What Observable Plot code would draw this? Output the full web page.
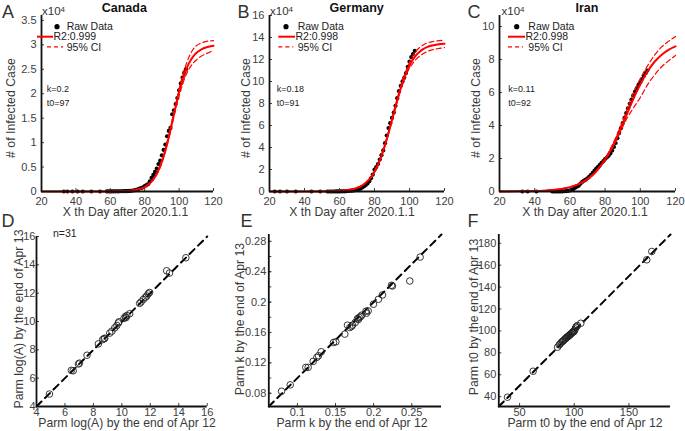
<!DOCTYPE html>
<html><head><meta charset="utf-8">
<script src="https://cdn.jsdelivr.net/npm/d3@7"></script>
<script src="https://cdn.jsdelivr.net/npm/@observablehq/plot@0.6"></script>
<style>
html,body{margin:0;padding:0;background:#fff;}
#fig{position:relative;width:685px;height:431px;overflow:hidden;background:#fff;}
</style></head><body><div id="fig"></div>
<script>
// ---------------- DATA ----------------
const countries = ["Canada", "Germany", "Iran"];
const panelLetters = ["A", "B", "C", "D", "E", "F"];
const r2Labels = ["R2:0.999", "R2:0.998", "R2:0.998"];
const kLabels = ["k=0.2", "k=0.18", "k=0.11"];
const t0Labels = ["t0=97", "t0=91", "t0=92"];
const legendLabels = ["Raw Data", "95% CI"];
const nLabel = "n=31";
const topXLabel = "X th Day after 2020.1.1";
const topYLabel = "# of Infected Case";
const bottomXLabels = ["Parm log(A) by the end of Apr 12", "Parm k by the end of Apr 12", "Parm t0 by the end of Apr 12"];
const bottomYLabels = ["Parm log(A) by the end of Apr 13", "Parm k by the end of Apr 13", "Parm t0 by the end of Apr 13"];

const dayTicks = [20, 40, 60, 80, 100, 120];
const canadaYTicks = [0, 0.5, 1, 1.5, 2, 2.5, 3, 3.5];
const germanyYTicks = [0, 2, 4, 6, 8, 10, 12, 14, 16];
const iranYTicks = [0, 2, 4, 6, 8, 10];

// Canada raw data (cases, x10^4)
const canadaDays = [33,35,38,41,44,49,54,58,59,60,61,62,63,64,65,66,67,68,69,70,71,72,73,74,75,76,77,78,79,80,81,82,83,84,85,86,87,88,89,90,91,92,93,94,95,96,97,98,99,100,101,102,103,104];
const canadaCases = [0,0,0,0,0,0,0,0.001,0.001,0.002,0.002,0.003,0.003,0.003,0.003,0.005,0.005,0.006,0.008,0.009,0.011,0.014,0.02,0.025,0.034,0.044,0.06,0.07,0.085,0.11,0.13,0.15,0.21,0.28,0.34,0.40,0.47,0.56,0.63,0.74,0.85,0.96,1.13,1.24,1.30,1.58,1.66,1.79,1.91,2.07,2.21,2.33,2.43,2.5];
const canadaFitDays = [20,40,50,60,65,70,75,78,80,82,84,86,88,90,92,94,96,98,100,102,104,106,108,110,113,116,120];
const canadaFit   = [0,0,0.0002,0.0014,0.004,0.011,0.033,0.06,0.091,0.136,0.203,0.298,0.431,0.61,0.84,1.115,1.422,1.734,2.028,2.281,2.485,2.641,2.754,2.834,2.909,2.951,2.979];
const canadaUpper = [0,0,0.0002,0.0015,0.0042,0.012,0.035,0.063,0.095,0.142,0.212,0.31,0.448,0.632,0.868,1.15,1.465,1.79,2.1,2.37,2.59,2.77,2.9,2.98,3.04,3.07,3.085];
const canadaLower = [0,0,0.0002,0.0013,0.0038,0.010,0.031,0.057,0.087,0.13,0.195,0.286,0.414,0.588,0.81,1.08,1.38,1.68,1.96,2.19,2.38,2.52,2.62,2.69,2.77,2.82,2.89];

// Germany
const germanyDays = [23,26,30,35,44,49,53,54,55,56,57,58,59,60,61,62,63,64,65,66,67,68,69,70,71,72,73,74,75,76,77,78,79,80,81,82,83,84,85,86,87,88,89,90,91,92,93,94,95,96,97,98,99,100,101,102,103];
const germanyCases = [0,0,0,0,0,0,0.002,0.002,0.002,0.002,0.002,0.003,0.005,0.008,0.013,0.016,0.02,0.026,0.048,0.067,0.079,0.10,0.116,0.146,0.19,0.26,0.37,0.46,0.58,0.73,0.93,1.2,1.53,1.98,2.22,2.49,2.91,3.3,3.73,4.39,5.09,5.77,6.21,6.69,7.18,7.79,8.48,9.12,9.61,10.01,10.34,10.77,11.33,11.82,12.22,12.49,12.79];
const germanyFitDays = [20,40,50,55,60,65,70,73,76,78,80,82,84,86,88,90,92,94,96,98,100,102,104,106,108,110,113,116,120];
const germanyFit   = [0,0.0016,0.0094,0.023,0.057,0.138,0.335,0.565,0.944,1.31,1.80,2.44,3.25,4.22,5.32,6.51,7.72,8.87,9.90,10.77,11.47,12.01,12.43,12.73,12.96,13.12,13.27,13.37,13.43];
const germanyUpper = [0,0.0016,0.0096,0.0235,0.058,0.141,0.342,0.576,0.963,1.34,1.84,2.49,3.32,4.31,5.43,6.64,7.87,9.05,10.1,10.98,11.75,12.35,12.8,13.12,13.35,13.5,13.63,13.7,13.75];
const germanyLower = [0,0.0016,0.0092,0.0225,0.056,0.135,0.328,0.554,0.925,1.28,1.76,2.39,3.18,4.13,5.21,6.38,7.57,8.69,9.7,10.55,11.2,11.68,12.05,12.33,12.55,12.72,12.88,12.98,13.08];

// Iran
const iranDays = [33,36,41,50,51,52,53,54,55,56,57,58,59,60,61,62,63,64,65,66,67,68,69,70,71,72,73,74,75,76,77,78,79,80,81,82,83,84,85,86,87,88,89,90,91,92,93,94,95,96,97,98,99,100,101,102,103,104];
const iranCases = [0,0,0,0.0002,0.0005,0.0018,0.0028,0.0043,0.0061,0.0095,0.0139,0.0245,0.0388,0.0593,0.0978,0.15,0.234,0.292,0.351,0.475,0.582,0.657,0.716,0.804,0.90,1.008,1.136,1.273,1.394,1.499,1.617,1.736,1.841,1.964,2.061,2.164,2.305,2.481,2.702,2.941,3.233,3.541,3.831,4.15,4.461,4.759,5.047,5.318,5.574,5.823,6.05,6.259,6.459,6.622,6.819,7.003,7.169,7.33];
const iranFitDays = [20,30,40,45,50,55,60,65,70,75,80,84,88,92,96,100,104,108,112,116,120];
const iranFit   = [0.003,0.01,0.03,0.052,0.09,0.154,0.264,0.449,0.751,1.228,1.94,2.70,3.60,4.60,5.60,6.50,7.26,7.85,8.28,8.59,8.80];
const iranUpper = [0.003,0.01,0.031,0.054,0.093,0.16,0.275,0.465,0.775,1.26,2.0,2.8,3.75,4.85,5.95,6.85,7.6,8.25,8.75,9.1,9.4];
const iranLower = [0.003,0.01,0.029,0.05,0.087,0.148,0.253,0.433,0.727,1.196,1.88,2.6,3.45,4.35,5.05,5.7,6.45,7.05,7.55,7.92,8.25];

// D: log(A)
const dApr12 = [4.91,6.45,6.58,6.95,7.02,7.55,8.35,8.65,8.75,8.8,9.15,9.3,9.5,9.65,9.75,9.8,10.15,10.25,10.3,10.35,10.55,11.25,11.35,11.5,11.65,11.75,11.85,11.95,13.15,13.35,14.5];
const dApr13 = [4.88,6.55,6.52,7.0,7.06,7.62,8.42,8.72,8.78,8.82,9.18,9.32,9.55,9.72,9.9,9.98,10.22,10.35,10.28,10.42,10.55,11.28,11.38,11.55,11.7,11.8,11.95,12.05,13.58,13.42,14.5];
const dLimits = [4, 16];
const dTicks = [4, 6, 8, 10, 12, 14, 16];

// E: k
const eApr12 = [0.0792,0.0906,0.111,0.1141,0.1207,0.1255,0.1277,0.1312,0.1474,0.1505,0.1622,0.1657,0.1688,0.171,0.1723,0.1758,0.1788,0.18,0.181,0.183,0.1845,0.1906,0.19,0.1928,0.1998,0.2063,0.2116,0.2234,0.2247,0.2474,0.261];
const eApr13 = [0.0826,0.091,0.114,0.114,0.1219,0.1272,0.1293,0.1346,0.1468,0.1477,0.1578,0.1696,0.1665,0.168,0.1696,0.1731,0.1783,0.177,0.1797,0.181,0.1828,0.1854,0.188,0.1884,0.1972,0.2037,0.2094,0.2221,0.2212,0.2278,0.2593];
const eLimits = [0.0625, 0.289];
const eXTicks = [0.1, 0.15, 0.2, 0.25];
const eYTicks = [0.08, 0.12, 0.16, 0.2, 0.24, 0.28];
const eYMinor = [0.08, 0.1, 0.12, 0.14, 0.16, 0.18, 0.2, 0.22, 0.24, 0.26, 0.28];

// F: t0
const fApr12 = [38.96,62.4,84.7,86.2,87.1,88.3,89.2,89.8,90.7,91.7,92.3,92.9,93.5,94.1,94.7,95.3,95.9,96.5,97.2,97.8,98.4,99.0,99.6,100.2,100.8,101.4,102.0,102.9,106.0,166.3,170.9];
const fApr13 = [39.5,63.2,85.1,87.2,88.1,89.7,90.3,90.9,91.8,92.7,93.3,93.9,94.4,94.8,95.4,95.7,96.3,96.9,97.5,98.1,98.7,99.3,99.3,100.2,101.8,103.3,103.9,104.9,107.0,164.9,172.5];
const fLimits = [31, 188];
const fXTicks = [50, 100, 150];
const fYTicks = [40, 60, 80, 100, 120, 140, 160, 180];

// ---------------- DRAWING ----------------
const FONT = '"Liberation Sans", Arial, Helvetica, sans-serif';
const fig = document.getElementById("fig");
const baseStyle = {fontFamily: FONT, fontSize: "11px", color: "#404040", background: "transparent", overflow: "visible"};
const RED = "#ff0000";

function place(svg, left, top) {
  svg.style.position = "absolute";
  svg.style.left = left + "px";
  svg.style.top = top + "px";
  fig.appendChild(svg);
}
const fmt = d => String(d);

function topPanel(p) {
  const raw = p.days.map((d, i) => ({d, v: p.cases[i]}));
  const fit = p.fitDays.map((d, i) => ({d, f: p.fit[i], u: p.upper[i], l: p.lower[i]}));
  const svg = Plot.plot({
    width: 230, height: 215, marginTop: 15, marginBottom: 24, marginLeft: p.ml, marginRight: p.mr,
    style: baseStyle,
    x: {domain: [20, 120]},
    y: {domain: [0, p.yMax]},
    marks: [
      Plot.dot(raw, {x: "d", y: "v", r: 2.1, fill: "#000"}),
      Plot.line(fit, {x: "d", y: "u", stroke: RED, strokeWidth: 1.2, strokeDasharray: "5,3", curve: "monotone-x"}),
      Plot.line(fit, {x: "d", y: "l", stroke: RED, strokeWidth: 1.2, strokeDasharray: "5,3", curve: "monotone-x"}),
      Plot.line(fit, {x: "d", y: "f", stroke: RED, strokeWidth: 2, curve: "monotone-x"}),
      Plot.axisX({ticks: dayTicks, tickSize: -3, tickPadding: 8.2, tickFormat: fmt, label: null}),
      Plot.axisY({ticks: p.yTicks, tickSize: -3, tickPadding: 8, tickFormat: fmt, label: null}),
      Plot.ruleX([20], {stroke: "#111", strokeWidth: 1.8}),
      Plot.ruleY([0], {stroke: "#111", strokeWidth: 1.8})
    ]
  });
  place(svg, p.left, 0);
}

topPanel({left: 0, ml: 41, mr: 17, yMax: 3.6, yTicks: canadaYTicks, days: canadaDays, cases: canadaCases, fitDays: canadaFitDays, fit: canadaFit, upper: canadaUpper, lower: canadaLower});
topPanel({left: 225, ml: 44, mr: 11, yMax: 16, yTicks: germanyYTicks, days: germanyDays, cases: germanyCases, fitDays: germanyFitDays, fit: germanyFit, upper: germanyUpper, lower: germanyLower});
topPanel({left: 455, ml: 44, mr: 10, yMax: 10.67, yTicks: iranYTicks, days: iranDays, cases: iranCases, fitDays: iranFitDays, fit: iranFit, upper: iranUpper, lower: iranLower});

function scatterPanel(p) {
  const pts = p.xs.map((x, i) => ({x, y: p.ys[i]}));
  const marks = [
    Plot.line(p.limits, {x: d => d, y: d => d, stroke: "#000", strokeWidth: 2, strokeDasharray: "7,5"}),
    Plot.dot(pts, {x: "x", y: "y", r: 3.3, stroke: "#222", strokeWidth: 0.9, fill: "none"}),
    Plot.axisX({ticks: p.xTicks, tickSize: -3, tickPadding: 4.4, tickFormat: fmt, label: null}),
    Plot.axisY({ticks: p.yTicks, tickSize: -3, tickPadding: p.yPad, tickFormat: fmt, label: null})
  ];
  if (p.yMinor) marks.push(Plot.axisY({ticks: p.yMinor, tickSize: -3, tickFormat: () => "", label: null}));
  marks.push(Plot.ruleX([p.limits[0]], {stroke: "#111", strokeWidth: 1.8}));
  marks.push(Plot.ruleY([p.limits[0]], {stroke: "#111", strokeWidth: 1.8}));
  const svg = Plot.plot({
    width: 230, height: 216, marginTop: p.mt, marginBottom: 25, marginLeft: p.ml, marginRight: p.mr,
    style: baseStyle,
    x: {domain: p.limits}, y: {domain: p.limits},
    marks
  });
  place(svg, p.left, 215);
}

scatterPanel({left: 0, ml: 36, mr: 23.3, mt: 21, limits: dLimits, xs: dApr12, ys: dApr13, xTicks: dTicks, yTicks: dTicks, yPad: 4});
scatterPanel({left: 225, ml: 43.3, mr: 14, mt: 19, limits: eLimits, xs: eApr12, ys: eApr13, xTicks: eXTicks, yTicks: eYTicks, yMinor: eYMinor, yPad: 5.5});
scatterPanel({left: 455, ml: 43.3, mr: 15, mt: 19, limits: fLimits, xs: fApr12, ys: fApr13, xTicks: fXTicks, yTicks: fYTicks, yPad: 5.5});

// ---------------- ANNOTATIONS ----------------
const ov = d3.select(fig).append("svg")
  .attr("width", 685).attr("height", 431)
  .style("position", "absolute").style("left", "0px").style("top", "0px")
  .style("font-family", FONT).style("overflow", "visible");

function txt(s, x, y, o = {}) {
  const t = ov.append("text")
    .attr("transform", `translate(${x},${y})` + (o.rotate ? ` rotate(${o.rotate})` : ""))
    .attr("dy", "0.358em")
    .attr("text-anchor", o.anchor || "start")
    .attr("font-size", (o.size || 11) + "px")
    .attr("font-weight", o.weight || "normal")
    .attr("fill", o.fill || "#333")
    .text(s);
  return t;
}

// panel letters
const letterPos = [[2, 11.5], [237.5, 11.5], [467.5, 11.5], [1.5, 221], [240.5, 221], [467.5, 221]];
panelLetters.forEach((l, i) => txt(l, letterPos[i][0], letterPos[i][1], {size: 18, fill: "#333"}));

// titles
const titleX = [124.3, 356.7, 587];
countries.forEach((c, i) => txt(c, titleX[i], 7.8, {size: 12.5, weight: "bold", anchor: "middle", fill: "#111"}));

// x10^4
const expX = [42, 270, 501.5];
expX.forEach(x => {
  const t = txt("x10", x, 11, {size: 11.5, fill: "#333"});
  t.append("tspan").attr("font-size", "8px").attr("dy", "-0.45em").text("4");
});

// legends
const dotX = [57, 286, 516.7];
const rawTextX = [66.7, 297.7, 528.3];
const solidSw = [[37, 53], [278.3, 295], [508, 525]];
const r2X = [53.5, 295.5, 525.5];
const dashSw = [[47, 63], [278.3, 293.3], [508, 523]];
const rowY = [26.7, 36.7, 46.9];
for (let i = 0; i < 3; i++) {
  ov.append("circle").attr("cx", dotX[i]).attr("cy", rowY[0]).attr("r", 2.6).attr("fill", "#000");
  txt(legendLabels[0], rawTextX[i], rowY[0], {size: 10.5, fill: "#222"});
  ov.append("line").attr("x1", solidSw[i][0]).attr("x2", solidSw[i][1]).attr("y1", rowY[1]).attr("y2", rowY[1]).attr("stroke", RED).attr("stroke-width", 2);
  txt(r2Labels[i], r2X[i], rowY[1], {size: 10.5, fill: "#222"});
  ov.append("line").attr("x1", dashSw[i][0]).attr("x2", dashSw[i][1]).attr("y1", rowY[2]).attr("y2", rowY[2]).attr("stroke", RED).attr("stroke-width", 1.2).attr("stroke-dasharray", "4,3");
  txt(legendLabels[1], rawTextX[i], rowY[2], {size: 10.5, fill: "#222"});
}

// k / t0
const kX = [46.7, 276.7, 508.3];
for (let i = 0; i < 3; i++) {
  txt(kLabels[i], kX[i], 89, {size: 9, fill: "#222"});
  txt(t0Labels[i], kX[i], 103, {size: 9, fill: "#222"});
}

// axis labels top
const topYLabX = [11, 245.7, 475.7];
const topXLabX = [125.5, 352, 585];
for (let i = 0; i < 3; i++) {
  txt(topYLabel, topYLabX[i], 108, {size: 12.3, anchor: "middle", rotate: -90, fill: "#3a3a3a"});
  txt(topXLabel, topXLabX[i], 211.5, {size: 12.2, anchor: "middle", fill: "#3a3a3a"});
}

// axis labels bottom
const botYLabPos = [[18.3, 319], [240, 319], [473.3, 317]];
const botXLabX = [127, 352, 585];
for (let i = 0; i < 3; i++) {
  txt(bottomYLabels[i], botYLabPos[i][0], botYLabPos[i][1], {size: 12.3, anchor: "middle", rotate: -90, fill: "#3a3a3a"});
  txt(bottomXLabels[i], botXLabX[i], 423, {size: 12.2, anchor: "middle", fill: "#3a3a3a"});
}

txt(nLabel, 53, 233.5, {size: 10.5, fill: "#222"});
</script></body></html>
